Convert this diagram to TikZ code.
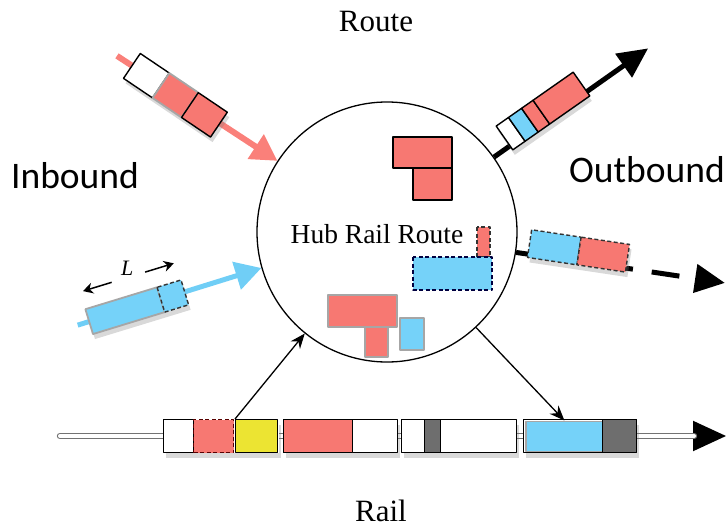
\documentclass[tikz,border=0pt]{standalone}
\usepackage{fontspec}
\setmainfont{Liberation Serif}
\newfontfamily\sidefont{Carlito}
\usepackage{tikz}
\usetikzlibrary{arrows.meta}
\usetikzlibrary{shadows}
\usetikzlibrary{positioning}

\definecolor{carred}{RGB}{247,120,114}
\definecolor{carblue}{RGB}{117,210,249}
\definecolor{caryellow}{RGB}{236,228,50}
\definecolor{cargray}{RGB}{110,110,110}
\definecolor{arrowred}{RGB}{250,128,122}
\definecolor{arrowblue}{RGB}{112,206,246}

\tikzset{
  car/.style={draw=black, line width=1.4pt, line join=round},
  grcar/.style={draw=black!35, line width=1.8pt},
  dashcar/.style={draw=black!80, line width=1.4pt, dash pattern=on 4pt off 2.5pt},
  carshadow/.style={drop shadow={opacity=.3, shadow xshift=2pt, shadow yshift=-5pt}},
  railcar/.style={car, minimum height=33pt, inner sep=0pt, anchor=north west},
  inarrow/.style={line width=6pt, -{Triangle[length=26pt, width=28pt]}},
  outarrow/.style={line width=5pt, -{Triangle[length=30pt, width=28pt]}},
  outpath/.style={line width=5pt},
  thinarrow/.style={line width=1.3pt, -{Stealth[length=15pt, width=12pt]}},
  dimarrow/.style={line width=1.5pt, -{Stealth[length=10pt, width=11pt]}},
  railline/.style={draw=black!55, line width=1.2pt, double=white, double distance=4pt, line cap=round},
  title/.style={font=\fontsize{31}{33}\selectfont, anchor=base, inner sep=1pt},
  side/.style={font=\sidefont\fontsize{37.5}{40}\selectfont, anchor=base},
}

\begin{document}
\begin{tikzpicture}[x=1pt, y=-1pt, line join=round]
  \useasboundingbox (0,0) rectangle (726,530);
  %--- Hub
    \node[draw, circle, minimum size=260pt, line width=1.3pt, fill=white, inner sep=0pt] (hub) at (387,232) {};
    \node[font=\fontsize{27.5}{29}\selectfont, anchor=base] (hubtext) at (377,243) {Hub Rail Route};
    \draw[car, fill=carred] (393,137) rectangle (452,168);
    \draw[car, fill=carred] (413,168) rectangle (452,200);
    \draw[dashcar, fill=carred] (477,227) rectangle (490,257);
    \draw[dashcar, draw=blue!25!black, fill=carblue] (413,257) rectangle (492,290);
    \draw[grcar, fill=carred] (328,295) rectangle (397,327);
    \draw[grcar, fill=carred] (365,327) rectangle (388,357);
    \draw[grcar, fill=carblue] (400,318) rectangle (424,350);
  %--- Labels
    \node[title] (route) at (376,31) {Route};
    \node[title] (rail) at (381,521) {Rail};
    \node[side] (inbound) at (75,188) {Inbound};
    \node[side] (outbound) at (647,182) {Outbound};
  %--- Inbound, red
    \begin{scope}[shift={(175,95)}, rotate=-34]
      \coordinate (redin-start) at (-70,0);
      \draw[inarrow, arrowred] (redin-start) -- (hub.147);
      \fill[carshadow, white] (-52,-15) rectangle (53,15);
      \draw[car, fill=white] (-52,-15) rectangle (-17,15);
      \draw[grcar, fill=carred] (-17,-15) rectangle (18,15);
      \draw[car, fill=carred] (18,-15) rectangle (53,15);
    \end{scope}
  %--- Inbound, blue
    \begin{scope}[shift={(137,307)}, rotate=17]
      \coordinate (bluein-start) at (-62,0);
      \draw[inarrow, arrowblue, line width=5pt] (bluein-start) -- (hub.196);
      \fill[carshadow, white] (-50,-13) rectangle (50,13);
      \draw[grcar, fill=carblue] (-50,-13) rectangle (25,13);
      \draw[dashcar, fill=carblue] (25,-13) rectangle (50,13);
      \node[font=\itshape\fontsize{22}{22}\selectfont] (len) at (2,-40) {L};
      \coordinate (len-left) at (-47,-31);
      \coordinate (len-right) at (48,-31);
      \draw[dimarrow] (-17,-31) -- (len-left);
      \draw[dimarrow] (18,-31) -- (len-right);
    \end{scope}
  %--- Outbound, solid
    \begin{scope}[shift={(543,111)}, rotate=35]
      \coordinate (outtop-tip) at (122,9);
      \draw[outarrow] (hub.35) -- (outtop-tip);
      \fill[carshadow, white] (-47,-14.5) rectangle (47,14.5);
      \draw[car, fill=white] (-47,-14.5) rectangle (-32,14.5);
      \draw[car, fill=carblue] (-32,-14.5) rectangle (-16,14.5);
      \draw[car, fill=carred] (-16,-14.5) rectangle (-2,14.5);
      \draw[car, fill=carred] (-2,-14.5) rectangle (47,14.5);
    \end{scope}
  %--- Outbound, dashed
    \begin{scope}[shift={(579,251)}, rotate=-8.5]
      \coordinate (outdash-a) at (56,10);
      \coordinate (outdash-tip) at (149,10);
      \draw[outpath] (hub.-9) -- (outdash-a);
      \draw[outarrow, dash pattern=on 0pt off 19pt on 28pt off 60pt] (outdash-a) -- (outdash-tip);
      \fill[carshadow, white] (-50,-14) rectangle (49,14);
      \draw[dashcar, fill=carblue] (-50,-14) rectangle (0,14);
      \draw[dashcar, fill=carred] (0,-14) rectangle (49,14);
    \end{scope}
  %--- Rail
    \coordinate (rail-start) at (60,436);
    \coordinate (rail-base) at (694,436);
    \coordinate (rail-tip) at (726,436);
    \draw[line width=2pt, -{Triangle[length=33pt, width=30pt]}] (rail-start) -- (rail-tip);
    \draw[railline] (rail-start) -- (rail-base);
  %--- Rail cars
    \node[railcar, carshadow, draw=none, fill=white, minimum width=115pt] (carA) at (163,419) {};
    \node[railcar, fill=white, minimum width=30pt] (carA-white) at (163,419) {};
    \node[railcar, dashcar, draw=red!35!black, fill=carred, minimum width=40pt] (carA-red) at (193,419) {};
    \node[railcar, fill=caryellow, minimum width=42pt] (carA-yellow) at (235,419) {};
    \node[railcar, carshadow, fill=white, minimum width=114pt] (carB) at (283,419) {};
    \node[railcar, fill=carred, minimum width=69pt] (carB-red) at (283,419) {};
    \node[railcar, carshadow, fill=white, minimum width=115pt] (carC) at (401,419) {};
    \node[railcar, fill=cargray, minimum width=16pt] (carC-gray) at (424,419) {};
    \node[railcar, carshadow, fill=white, minimum width=113pt] (carD) at (523,419) {};
    \node[railcar, grcar, fill=carblue, minimum width=77pt, minimum height=30pt] (carD-blue) at (525,420.5) {};
    \node[railcar, fill=cargray, minimum width=34pt] (carD-gray) at (602,419) {};
  %--- Links
    \draw[thinarrow] (carA-yellow.north west) -- (hub.231);
    \draw[thinarrow] (hub.-47) -- (carD-blue.north);
\end{tikzpicture}
\end{document}
